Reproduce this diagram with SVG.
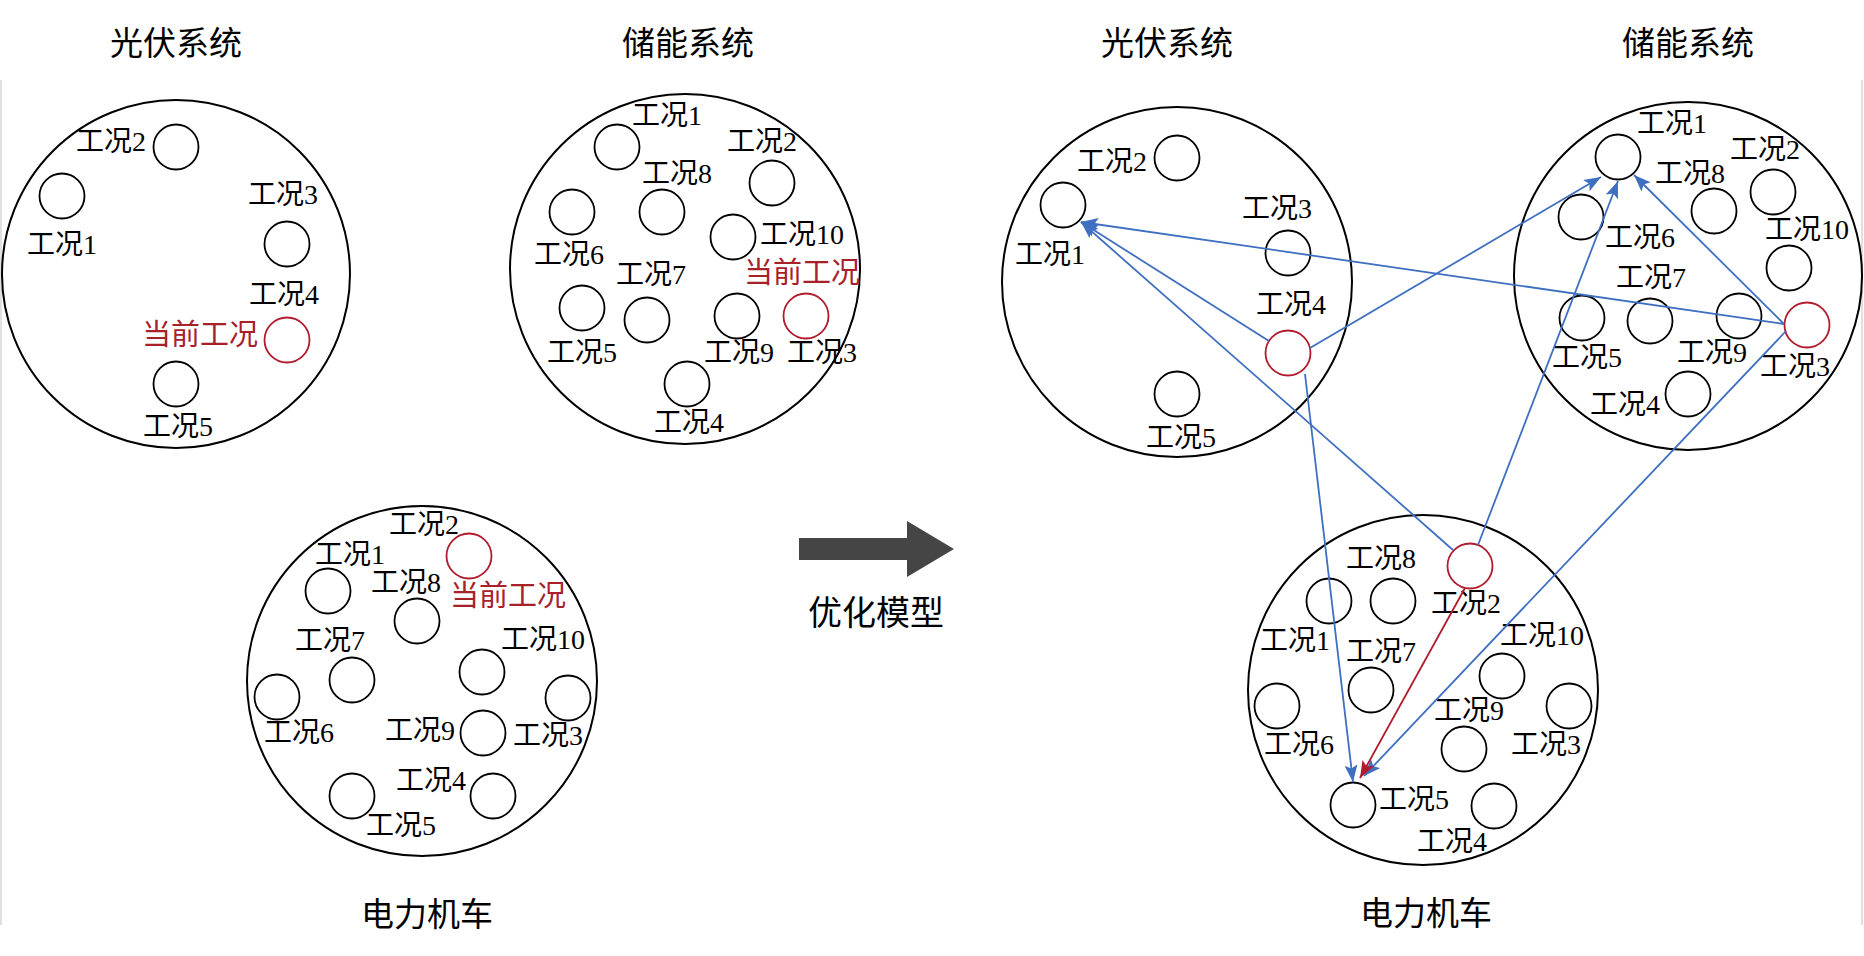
<svg xmlns="http://www.w3.org/2000/svg" width="1864" height="956" viewBox="0 0 1864 956">
<style>
.big{fill:none;stroke:#000;stroke-width:2}
.sm{fill:none;stroke:#000;stroke-width:1.8}
.cur{fill:none;stroke:#B01C2E;stroke-width:1.8}
.lb{font-family:"Liberation Serif","Noto Sans CJK SC",serif;font-size:28px;fill:#000;text-anchor:middle}
.lr{font-family:"Noto Sans CJK SC",sans-serif;font-size:29px;fill:#A8202A;text-anchor:middle}
.tt{font-family:"Noto Sans CJK SC",sans-serif;font-size:33px;fill:#000;text-anchor:middle}
.bl{fill:none;stroke:#3F6FC0;stroke-width:1.8}
.rd{fill:none;stroke:#B01C2E;stroke-width:1.8}
</style>
<defs>
<marker id="ab" markerUnits="userSpaceOnUse" markerWidth="18" markerHeight="13" refX="17" refY="6.5" orient="auto"><path d="M0,0 L17,6.5 L0,13 L3.5,6.5 z" fill="#3F6FC0"/></marker>
<marker id="ar" markerUnits="userSpaceOnUse" markerWidth="18" markerHeight="13" refX="17" refY="6.5" orient="auto"><path d="M0,0 L17,6.5 L0,13 L3.5,6.5 z" fill="#B01C2E"/></marker>
</defs>
<rect width="1864" height="956" fill="#fff"/>
<g id="border" stroke="#d6d6d6" stroke-width="1.5"><line x1="1" y1="80" x2="1" y2="925"/><line x1="1862" y1="80" x2="1862" y2="925"/></g>

<g id="L-pv">
<text class="tt" x="176" y="55">光伏系统</text>
<circle class="big" cx="176" cy="274" r="174"/>
<g id="L-pv-1"><circle class="sm" cx="62" cy="196" r="22.5"/><text class="lb" x="62" y="254">工况1</text></g>
<g id="L-pv-2"><circle class="sm" cx="176" cy="147" r="22.5"/><text class="lb" x="111" y="151">工况2</text></g>
<g id="L-pv-3"><circle class="sm" cx="287" cy="244" r="22.5"/><text class="lb" x="283" y="204">工况3</text></g>
<g id="L-pv-4"><text class="lb" x="284" y="304">工况4</text><circle class="cur" cx="287" cy="340" r="22.5"/><text class="lr" x="200" y="345">当前工况</text></g>
<g id="L-pv-5"><circle class="sm" cx="176" cy="384" r="22.5"/><text class="lb" x="178" y="436">工况5</text></g>
</g>

<g id="L-es">
<text class="tt" x="688" y="55">储能系统</text>
<circle class="big" cx="685" cy="269" r="175"/>
<g id="L-es-1"><circle class="sm" cx="617" cy="147" r="22.5"/><text class="lb" x="667" y="125">工况1</text></g>
<g id="L-es-2"><circle class="sm" cx="772" cy="183" r="22.5"/><text class="lb" x="762" y="151">工况2</text></g>
<g id="L-es-8"><circle class="sm" cx="662" cy="212" r="22.5"/><text class="lb" x="677" y="183">工况8</text></g>
<g id="L-es-6"><circle class="sm" cx="572" cy="212" r="22.5"/><text class="lb" x="569" y="264">工况6</text></g>
<g id="L-es-10"><circle class="sm" cx="733" cy="237" r="22.5"/><text class="lb" x="802" y="244">工况10</text></g>
<g id="L-es-7"><circle class="sm" cx="647" cy="320" r="22.5"/><text class="lb" x="651" y="284">工况7</text></g>
<g id="L-es-5"><circle class="sm" cx="582" cy="308" r="22.5"/><text class="lb" x="582" y="362">工况5</text></g>
<g id="L-es-9"><circle class="sm" cx="737" cy="316" r="22.5"/><text class="lb" x="739" y="362">工况9</text></g>
<g id="L-es-3"><circle class="cur" cx="806" cy="316" r="22.5"/><text class="lr" x="802" y="283">当前工况</text><text class="lb" x="822" y="362">工况3</text></g>
<g id="L-es-4"><circle class="sm" cx="687" cy="384" r="22.5"/><text class="lb" x="689" y="432">工况4</text></g>
</g>

<g id="L-loco">
<circle class="big" cx="422" cy="681" r="175"/>
<text class="tt" x="427" y="926">电力机车</text>
<g id="L-loco-2"><text class="lb" x="424" y="534">工况2</text><circle class="cur" cx="469" cy="556" r="22.5"/><text class="lr" x="508" y="606">当前工况</text></g>
<g id="L-loco-1"><circle class="sm" cx="328" cy="591" r="22.5"/><text class="lb" x="350" y="564">工况1</text></g>
<g id="L-loco-8"><circle class="sm" cx="417" cy="621" r="22.5"/><text class="lb" x="406" y="592">工况8</text></g>
<g id="L-loco-7"><circle class="sm" cx="352" cy="680" r="22.5"/><text class="lb" x="330" y="650">工况7</text></g>
<g id="L-loco-10"><circle class="sm" cx="482" cy="672" r="22.5"/><text class="lb" x="543" y="649">工况10</text></g>
<g id="L-loco-6"><circle class="sm" cx="277" cy="697" r="22.5"/><text class="lb" x="299" y="742">工况6</text></g>
<g id="L-loco-3"><circle class="sm" cx="568" cy="698" r="22.5"/><text class="lb" x="548" y="745">工况3</text></g>
<g id="L-loco-9"><circle class="sm" cx="483" cy="733" r="22.5"/><text class="lb" x="420" y="740">工况9</text></g>
<g id="L-loco-4"><circle class="sm" cx="493" cy="796" r="22.5"/><text class="lb" x="431" y="790">工况4</text></g>
<g id="L-loco-5"><circle class="sm" cx="352" cy="796" r="22.5"/><text class="lb" x="401" y="835">工况5</text></g>
</g>

<g id="opt">
<polygon points="799,538 907,538 907,521 954,549 907,577 907,560 799,560" fill="#454545"/>
<text class="tt" x="876" y="625" style="font-size:34px">优化模型</text>
</g>

<g id="R-pv">
<text class="tt" x="1167" y="55">光伏系统</text>
<circle class="big" cx="1177" cy="282" r="175"/>
<g id="R-pv-1"><circle class="sm" cx="1063" cy="205" r="22.5"/><text class="lb" x="1050" y="264">工况1</text></g>
<g id="R-pv-2"><circle class="sm" cx="1177" cy="158" r="22.5"/><text class="lb" x="1112" y="171">工况2</text></g>
<g id="R-pv-3"><circle class="sm" cx="1288" cy="253" r="22.5"/><text class="lb" x="1277" y="218">工况3</text></g>
<g id="R-pv-4"><circle class="cur" cx="1288" cy="353" r="22.5"/><text class="lb" x="1291" y="314">工况4</text></g>
<g id="R-pv-5"><circle class="sm" cx="1177" cy="394" r="22.5"/><text class="lb" x="1181" y="447">工况5</text></g>
</g>

<g id="R-es">
<text class="tt" x="1688" y="55">储能系统</text>
<circle class="big" cx="1688" cy="276" r="174"/>
<g id="R-es-1"><circle class="sm" cx="1618" cy="157" r="22.5"/><text class="lb" x="1672" y="133">工况1</text></g>
<g id="R-es-2"><circle class="sm" cx="1773" cy="192" r="22.5"/><text class="lb" x="1765" y="159">工况2</text></g>
<g id="R-es-8"><circle class="sm" cx="1714" cy="211" r="22.5"/><text class="lb" x="1690" y="183">工况8</text></g>
<g id="R-es-6"><circle class="sm" cx="1581" cy="217" r="22.5"/><text class="lb" x="1640" y="247">工况6</text></g>
<g id="R-es-10"><circle class="sm" cx="1789" cy="268" r="22.5"/><text class="lb" x="1807" y="239">工况10</text></g>
<g id="R-es-7"><circle class="sm" cx="1650" cy="321" r="22.5"/><text class="lb" x="1651" y="287">工况7</text></g>
<g id="R-es-5"><circle class="sm" cx="1582" cy="318" r="22.5"/><text class="lb" x="1587" y="367">工况5</text></g>
<g id="R-es-9"><circle class="sm" cx="1739" cy="316" r="22.5"/><text class="lb" x="1712" y="362">工况9</text></g>
<g id="R-es-3"><circle class="cur" cx="1807" cy="325" r="22.5"/><text class="lb" x="1795" y="376">工况3</text></g>
<g id="R-es-4"><circle class="sm" cx="1688" cy="394" r="22.5"/><text class="lb" x="1625" y="414">工况4</text></g>
</g>

<g id="R-loco">
<circle class="big" cx="1423" cy="690" r="175"/>
<text class="tt" x="1426" y="925">电力机车</text>
<g id="R-loco-2"><circle class="cur" cx="1470" cy="566" r="22.5"/><text class="lb" x="1466" y="613">工况2</text></g>
<g id="R-loco-8"><circle class="sm" cx="1393" cy="601" r="22.5"/><text class="lb" x="1381" y="568">工况8</text></g>
<g id="R-loco-1"><circle class="sm" cx="1329" cy="601" r="22.5"/><text class="lb" x="1295" y="650">工况1</text></g>
<g id="R-loco-7"><circle class="sm" cx="1371" cy="690" r="22.5"/><text class="lb" x="1381" y="661">工况7</text></g>
<g id="R-loco-10"><circle class="sm" cx="1502" cy="676" r="22.5"/><text class="lb" x="1542" y="645">工况10</text></g>
<g id="R-loco-6"><circle class="sm" cx="1277" cy="706" r="22.5"/><text class="lb" x="1299" y="754">工况6</text></g>
<g id="R-loco-3"><circle class="sm" cx="1569" cy="706" r="22.5"/><text class="lb" x="1546" y="754">工况3</text></g>
<g id="R-loco-9"><circle class="sm" cx="1464" cy="749" r="22.5"/><text class="lb" x="1469" y="720">工况9</text></g>
<g id="R-loco-5"><circle class="sm" cx="1353" cy="805" r="22.5"/><text class="lb" x="1414" y="809">工况5</text></g>
<g id="R-loco-4"><circle class="sm" cx="1494" cy="806" r="22.5"/><text class="lb" x="1452" y="851">工况4</text></g>
</g>

<g id="connectors">
<line class="bl" x1="1269" y1="341" x2="1081" y2="222" marker-end="url(#ab)"/>
<line class="bl" x1="1453" y1="550" x2="1081" y2="222" marker-end="url(#ab)"/>
<line class="bl" x1="1784" y1="324" x2="1081" y2="222" marker-end="url(#ab)"/>
<line class="bl" x1="1310" y1="348" x2="1601" y2="177" marker-end="url(#ab)"/>
<line class="bl" x1="1478" y1="545" x2="1618" y2="181" marker-end="url(#ab)"/>
<line class="bl" x1="1784" y1="324" x2="1634" y2="175" marker-end="url(#ab)"/>
<line class="bl" x1="1305" y1="374" x2="1353" y2="782" marker-end="url(#ab)"/>
<line class="bl" x1="1786" y1="331" x2="1364" y2="776" marker-end="url(#ab)"/>
<line class="rd" x1="1465" y1="588" x2="1360" y2="778" marker-end="url(#ar)"/>
</g>
</svg>
